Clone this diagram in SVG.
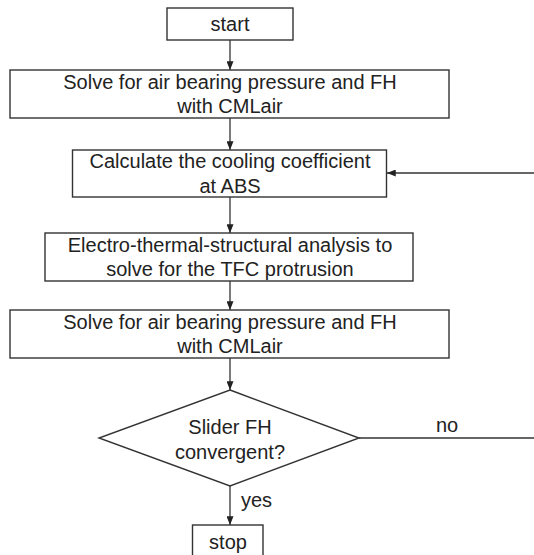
<svg xmlns="http://www.w3.org/2000/svg" width="534" height="555" viewBox="0 0 534 555">
<style>
.box{fill:#fff;stroke:#333;stroke-width:1.4}
.t{font-family:"Liberation Sans",Arial,sans-serif;font-size:20px;fill:#222;text-anchor:middle}
.tl{font-family:"Liberation Sans",Arial,sans-serif;font-size:20px;fill:#222}
.c{fill:none;stroke:#333;stroke-width:1.3}
</style>
<defs>
<marker id="ah" viewBox="0 0 10 8" refX="10" refY="4" markerWidth="9" markerHeight="7" markerUnits="userSpaceOnUse" orient="auto">
<path d="M0,0 L10,4 L0,8 Z" fill="#222"/>
</marker>
</defs>
<rect width="534" height="555" fill="#fff"/>
<g id="connectors">
<line class="c" x1="230" y1="40" x2="230" y2="70" marker-end="url(#ah)"/>
<line class="c" x1="230" y1="118" x2="230" y2="150" marker-end="url(#ah)"/>
<line class="c" x1="230" y1="197" x2="230" y2="233" marker-end="url(#ah)"/>
<line class="c" x1="230" y1="281" x2="230" y2="310" marker-end="url(#ah)"/>
<line class="c" x1="230" y1="358" x2="230" y2="390" marker-end="url(#ah)"/>
<line class="c" x1="230" y1="486" x2="230" y2="525" marker-end="url(#ah)"/>
<line class="c" x1="359" y1="438" x2="534" y2="438"/>
<line class="c" x1="534" y1="173" x2="387" y2="173" marker-end="url(#ah)"/>
<text class="tl" x="436" y="432">no</text>
<text class="tl" x="241" y="507">yes</text>
</g>
<g id="start">
<rect class="box" x="167" y="8" width="126" height="32"/>
<text class="t" x="230" y="31">start</text>
</g>
<g id="solve1">
<rect class="box" x="10" y="70" width="439" height="48"/>
<text class="t" x="230" y="89">Solve for air bearing pressure and FH</text>
<text class="t" x="230" y="113">with CMLair</text>
</g>
<g id="cooling">
<rect class="box" x="72.5" y="150" width="314" height="47"/>
<text class="t" x="230" y="168">Calculate the cooling coefficient</text>
<text class="t" x="230" y="193">at ABS</text>
</g>
<g id="electro">
<rect class="box" x="45" y="233" width="368" height="48"/>
<text class="t" x="230" y="252">Electro-thermal-structural analysis to</text>
<text class="t" x="230" y="276">solve for the TFC protrusion</text>
</g>
<g id="solve2">
<rect class="box" x="10" y="310" width="439" height="48"/>
<text class="t" x="230" y="329">Solve for air bearing pressure and FH</text>
<text class="t" x="230" y="353">with CMLair</text>
</g>
<g id="decision">
<polygon class="box" points="230,390 359,438 230,486 99,438"/>
<text class="t" x="230" y="434">Slider FH</text>
<text class="t" x="230" y="459">convergent?</text>
</g>
<g id="stop">
<rect class="box" x="192.5" y="525" width="70.5" height="40"/>
<text class="t" x="228" y="549">stop</text>
</g>
</svg>
